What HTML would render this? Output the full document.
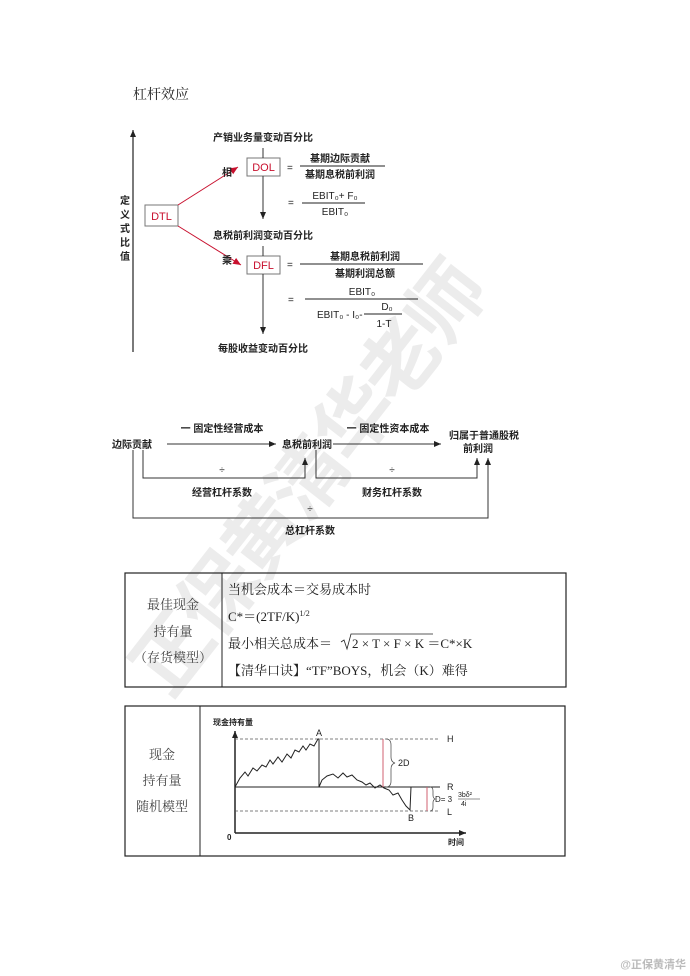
<!DOCTYPE html>
<html><head><meta charset="utf-8"><style>
html,body{margin:0;padding:0;background:#fff;}
svg{display:block}
.s{font-family:"Liberation Sans","Noto Sans CJK SC",sans-serif;font-size:10px;font-weight:bold;fill:#222}
.r{font-family:"Liberation Serif","Noto Serif CJK SC",serif;font-size:13px;fill:#222}
.red{fill:#c8102e}
</style></head><body>
<svg width="690" height="976" viewBox="0 0 690 976" xmlns="http://www.w3.org/2000/svg">
<defs>
<marker id="a" markerWidth="8" markerHeight="8" refX="7" refY="4" orient="auto" markerUnits="userSpaceOnUse"><path d="M0,1 L7,4 L0,7 z" fill="#222"/></marker>
<marker id="ar" markerWidth="9" markerHeight="9" refX="8" refY="4.5" orient="auto" markerUnits="userSpaceOnUse"><path d="M0,1 L8,4.5 L0,8 z" fill="#c8102e"/></marker>
</defs>
<!-- watermark -->
<text x="0" y="0" transform="translate(170,700) rotate(-52)" style="font-family:'Noto Sans CJK SC',sans-serif;font-size:78px;font-weight:bold;fill:#ececec;letter-spacing:-4px">正保黄清华老师</text>
<text x="133" y="99" class="r" style="font-size:14px">杠杆效应</text>
<!-- section 1 -->
<line x1="133" y1="352" x2="133" y2="130" stroke="#222" stroke-width="1.2" marker-end="url(#a)"/>
<g class="s" font-size="11"><text x="120" y="204">定</text><text x="120" y="218">义</text><text x="120" y="232">式</text><text x="120" y="246">比</text><text x="120" y="260">值</text></g>
<rect x="145" y="205" width="33" height="21" fill="#fff" stroke="#777"/>
<text x="161.5" y="220" text-anchor="middle" class="s red" style="font-size:11px;font-weight:normal">DTL</text>
<rect x="247" y="158" width="33" height="18" fill="#fff" stroke="#777"/>
<text x="263.5" y="171" text-anchor="middle" class="s red" style="font-size:11px;font-weight:normal">DOL</text>
<rect x="247" y="256" width="33" height="18" fill="#fff" stroke="#777"/>
<text x="263.5" y="269" text-anchor="middle" class="s red" style="font-size:11px;font-weight:normal">DFL</text>
<line x1="263" y1="148" x2="263" y2="158" stroke="#333"/>
<line x1="263" y1="176" x2="263" y2="219" stroke="#333" marker-end="url(#a)"/>
<line x1="263" y1="246" x2="263" y2="256" stroke="#333"/>
<line x1="263" y1="274" x2="263" y2="334" stroke="#333" marker-end="url(#a)"/>
<line x1="178" y1="205" x2="238" y2="167" stroke="#c8102e" marker-end="url(#ar)"/>
<line x1="178" y1="226" x2="241" y2="265" stroke="#c8102e" marker-end="url(#ar)"/>
<text x="222" y="176" class="s">相</text>
<text x="222" y="264" class="s">乘</text>
<text x="263" y="141" text-anchor="middle" class="s">产销业务量变动百分比</text>
<text x="263" y="239" text-anchor="middle" class="s">息税前利润变动百分比</text>
<text x="263" y="352" text-anchor="middle" class="s">每股收益变动百分比</text>
<g class="s" style="font-weight:normal">
<text x="287" y="171">=</text>
<text x="340" y="162" text-anchor="middle" style="font-weight:bold">基期边际贡献</text>
<line x1="300" y1="166" x2="385" y2="166" stroke="#222"/>
<text x="340" y="178" text-anchor="middle" style="font-weight:bold">基期息税前利润</text>
<text x="288" y="206">=</text>
<text x="335" y="199" text-anchor="middle">EBIT₀+ F₀</text>
<line x1="302" y1="203" x2="365" y2="203" stroke="#222"/>
<text x="335" y="215" text-anchor="middle">EBIT₀</text>
<text x="287" y="268">=</text>
<text x="365" y="260" text-anchor="middle" style="font-weight:bold">基期息税前利润</text>
<line x1="300" y1="264" x2="423" y2="264" stroke="#222"/>
<text x="365" y="277" text-anchor="middle" style="font-weight:bold">基期利润总额</text>
<text x="288" y="303">=</text>
<text x="362" y="295" text-anchor="middle">EBIT₀</text>
<line x1="305" y1="299" x2="418" y2="299" stroke="#222"/>
<text x="317" y="318">EBIT₀ - I₀-</text>
<text x="387" y="310" text-anchor="middle">D₀</text>
<line x1="364" y1="314" x2="402" y2="314" stroke="#222"/>
<text x="384" y="327" text-anchor="middle">1-T</text>
</g>
<!-- section 2 -->
<g class="s">
<text x="112" y="448">边际贡献</text>
<text x="282" y="448">息税前利润</text>
<text x="449" y="439">归属于普通股税</text>
<text x="478" y="452" text-anchor="middle">前利润</text>
<text x="222" y="432" text-anchor="middle">一 固定性经营成本</text>
<text x="388" y="432" text-anchor="middle">一 固定性资本成本</text>
<text x="222" y="473" text-anchor="middle" style="font-weight:normal">÷</text>
<text x="392" y="473" text-anchor="middle" style="font-weight:normal">÷</text>
<text x="310" y="512" text-anchor="middle" style="font-weight:normal">÷</text>
<text x="222" y="496" text-anchor="middle">经营杠杆系数</text>
<text x="392" y="496" text-anchor="middle">财务杠杆系数</text>
<text x="310" y="534" text-anchor="middle">总杠杆系数</text>
</g>
<g stroke="#333" fill="none">
<line x1="167" y1="444" x2="276" y2="444" marker-end="url(#a)"/>
<line x1="333" y1="444" x2="441" y2="444" marker-end="url(#a)"/>
<polyline points="143,450 143,478 305,478 305,458" marker-end="url(#a)"/>
<polyline points="316,450 316,478 477,478 477,458" marker-end="url(#a)"/>
<polyline points="133,450 133,518 488,518 488,458" marker-end="url(#a)"/>
</g>
<!-- table 1 -->
<rect x="125" y="573" width="441" height="114" fill="none" stroke="#222" stroke-width="1.2"/>
<line x1="222" y1="573" x2="222" y2="687" stroke="#222"/>
<g class="r" text-anchor="middle" style="fill:#444"><text x="173" y="609">最佳现金</text><text x="173" y="636">持有量</text><text x="173" y="662">（存货模型）</text></g>
<g class="r">
<text x="228" y="594">当机会成本＝交易成本时</text>
<text x="228" y="621">C*＝(2TF/K)<tspan dy="-5" font-size="8">1/2</tspan></text>
<text x="228" y="648">最小相关总成本＝ </text>
<path d="M341,642 L344,640 L347,649 L351,634 L433,634" fill="none" stroke="#222" stroke-width="0.8"/>
<text x="352" y="648">2 × T × F × K  ＝C*×K</text>
<text x="228" y="675">【清华口诀】“TF”BOYS，机会（K）难得</text>
</g>
<!-- table 2 -->
<rect x="125" y="706" width="440" height="150" fill="none" stroke="#222" stroke-width="1.2"/>
<line x1="200" y1="706" x2="200" y2="856" stroke="#222"/>
<g class="r" text-anchor="middle" style="fill:#444"><text x="162" y="759">现金</text><text x="162" y="785">持有量</text><text x="162" y="811">随机模型</text></g>
<text x="213" y="725" class="s" style="font-size:8px">现金持有量</text>
<line x1="235" y1="833" x2="235" y2="731" stroke="#222" stroke-width="1.5" marker-end="url(#a)"/>
<line x1="235" y1="833" x2="466" y2="833" stroke="#222" stroke-width="1.5" marker-end="url(#a)"/>
<text x="227" y="840" class="s" style="font-size:8px">0</text>
<text x="448" y="845" class="s" style="font-size:8px">时间</text>
<g stroke="#555" stroke-dasharray="3,2" stroke-width="0.8"><line x1="235" y1="739" x2="440" y2="739"/><line x1="235" y1="811" x2="440" y2="811"/></g>
<line x1="235" y1="787" x2="440" y2="787" stroke="#222"/>
<g class="s" style="font-size:9px;font-weight:normal">
<text x="447" y="742">H</text><text x="447" y="790">R</text><text x="447" y="815">L</text>
<text x="316" y="736">A</text><text x="408" y="821">B</text><text x="398" y="766">2D</text>
<text x="435" y="802" style="font-size:8px">D= 3</text>
<text x="458" y="797" style="font-size:7px">3bδ²</text><text x="461" y="806" style="font-size:7px">4i</text>
</g>
<line x1="458" y1="799" x2="480" y2="799" stroke="#222" stroke-width="0.5"/>
<polyline fill="none" stroke="#222" stroke-width="1" points="235,787 240,778 245,772 248,776 253,768 257,771 262,765 266,767 270,760 273,764 278,757 282,762 287,754 291,758 295,750 299,752 303,746 306,750 310,744 314,746 318,739 319,739 319,787 322,780 327,776 333,774 338,778 343,773 347,777 352,775 357,780 362,782 366,785 370,783 375,788 380,785 384,788 389,790 393,795 398,793 402,800 406,806 410,810 411,787"/>
<line x1="383" y1="739" x2="383" y2="787" stroke="#d06070"/>
<line x1="427" y1="787" x2="427" y2="811" stroke="#d06070"/>
<path d="M386,739 q5,0 5,6 v12 q0,5 4,6 q-4,1 -4,6 v12 q0,6 -5,6" fill="none" stroke="#555" stroke-width="0.8"/>
<path d="M430,787 q3,0 3,4 v4 q0,3 2,4 q-2,1 -2,4 v4 q0,4 -3,4" fill="none" stroke="#555" stroke-width="0.8"/>
<text x="686" y="968" text-anchor="end" class="s" style="font-size:11px;fill:#bbb">@正保黄清华</text>
</svg>
</body></html>
